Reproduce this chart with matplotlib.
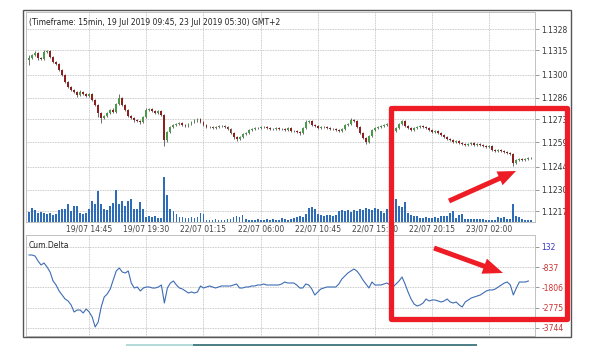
import matplotlib
matplotlib.use('Agg')
import matplotlib.pyplot as plt
from matplotlib.patches import Rectangle, FancyArrow
import numpy as np

# ---- data ----
title = '(Timeframe: 15min, 19 Jul 2019 09:45, 23 Jul 2019 05:30) GMT+2'

closes = [
    1.13103, 1.13121, 1.13134, 1.13103, 1.13097, 1.13140, 1.13146, 1.13109, 1.13079, 1.13067,
    1.13030, 1.13000, 1.12957, 1.12926, 1.12908, 1.12896, 1.12877, 1.12896, 1.12884, 1.12871,
    1.12884, 1.12847, 1.12816, 1.12768, 1.12737, 1.12749, 1.12768, 1.12786, 1.12774, 1.12823,
    1.12859, 1.12816, 1.12786, 1.12749, 1.12737, 1.12725, 1.12719, 1.12713, 1.12743, 1.12786,
    1.12792, 1.12780, 1.12768, 1.12780, 1.12755, 1.12603, 1.12652, 1.12682, 1.12694, 1.12701,
    1.12707, 1.12694, 1.12688, 1.12701, 1.12713, 1.12719, 1.12731, 1.12713, 1.12694, 1.12682,
    1.12682, 1.12676, 1.12682, 1.12688, 1.12688, 1.12682, 1.12670, 1.12646, 1.12621, 1.12609,
    1.12621, 1.12640, 1.12646, 1.12664, 1.12670, 1.12676, 1.12676, 1.12682, 1.12682, 1.12676,
    1.12670, 1.12670, 1.12676, 1.12670, 1.12670, 1.12664, 1.12676, 1.12658, 1.12658, 1.12652,
    1.12646, 1.12676, 1.12713, 1.12719, 1.12694, 1.12688, 1.12676, 1.12682, 1.12682, 1.12676,
    1.12670, 1.12670, 1.12664, 1.12658, 1.12670, 1.12694, 1.12701, 1.12725, 1.12719, 1.12682,
    1.12646, 1.12615, 1.12591, 1.12628, 1.12664, 1.12676, 1.12682, 1.12688, 1.12694, 1.12701,
    1.12713, 1.12658, 1.12676, 1.12701, 1.12719, 1.12688, 1.12676, 1.12664, 1.12676, 1.12682,
    1.12688, 1.12682, 1.12676, 1.12664, 1.12652, 1.12658, 1.12646, 1.12634, 1.12621, 1.12609,
    1.12603, 1.12591, 1.12597, 1.12585, 1.12579, 1.12573, 1.12579, 1.12585, 1.12573, 1.12579,
    1.12573, 1.12567, 1.12560, 1.12567, 1.12542, 1.12536, 1.12542, 1.12536, 1.12530, 1.12524,
    1.12518, 1.12463, 1.12481, 1.12487, 1.12481, 1.12487, 1.12493, 1.12493,
]
first_open = 1.13090

# wick extensions in pips
wick_up = [
    3, 1, 2, 1, 1, 2, 1, 1, 1, 1, 1, 1, 1, 1, 1, 1, 1, 2, 1, 1,
    1, 1, 1, 1, 1, 1, 1, 1, 2, 1, 4, 1, 1, 1, 1, 1, 1, 1, 1, 2,
    1, 1, 1, 1, 1, 1, 1, 1, 1, 1, 1, 1, 1, 1, 1, 2, 1, 1, 1, 1,
    1, 1, 1, 1, 1, 1, 1, 1, 1, 1, 1, 1, 1, 1, 1, 1, 1, 1, 1, 1,
    1, 1, 1, 1, 1, 1, 1, 1, 1, 1, 1, 1, 2, 1, 1, 1, 1, 1, 1, 1,
    1, 1, 1, 1, 1, 1, 1, 2, 1, 1, 1, 1, 1, 1, 1, 1, 1, 1, 1, 1,
    1, 2, 1, 1, 1, 1, 1, 1, 1, 1, 1, 1, 1, 1, 1, 1, 1, 1, 1, 1,
    1, 1, 1, 1, 1, 1, 1, 1, 1, 1, 1, 1, 1, 1, 1, 1, 1, 1, 1, 1,
    1, 1, 1, 1, 1, 1, 1, 1,
]
wick_dn = [
    5, 1, 1, 2, 1, 1, 1, 1, 1, 1, 1, 1, 1, 1, 1, 1, 2, 1, 1, 1,
    1, 1, 1, 4, 5, 1, 1, 1, 1, 1, 1, 1, 1, 1, 1, 2, 1, 2, 1, 1,
    1, 1, 1, 1, 1, 6, 2, 1, 1, 1, 1, 1, 1, 1, 1, 1, 1, 1, 1, 1,
    1, 1, 1, 1, 1, 1, 1, 1, 2, 2, 1, 1, 1, 1, 1, 1, 1, 1, 1, 1,
    1, 1, 1, 1, 1, 1, 1, 1, 1, 1, 2, 1, 1, 1, 1, 1, 1, 1, 1, 1,
    1, 1, 1, 1, 1, 1, 1, 1, 1, 1, 1, 1, 2, 1, 1, 1, 1, 1, 1, 1,
    1, 1, 1, 1, 1, 1, 1, 1, 1, 1, 1, 1, 1, 1, 1, 1, 1, 1, 1, 1,
    1, 1, 1, 1, 1, 1, 1, 1, 1, 1, 1, 1, 1, 1, 1, 1, 1, 1, 1, 1,
    1, 3, 1, 1, 1, 1, 1, 1,
]

volumes = [
    10, 14, 12, 9, 10, 9, 8, 9, 7, 8,
    12, 13, 13, 18, 11, 16, 16, 9, 8, 9,
    13, 21, 18, 31, 18, 13, 12, 16, 19, 32,
    18, 21, 16, 21, 23, 13, 13, 20, 13, 5,
    6, 5, 6, 4, 4, 45, 27, 13, 11, 8,
    5, 5, 4, 4, 5, 4, 5, 9, 8, 2,
    2, 2, 3, 2, 2, 2, 3, 3, 5, 6,
    5, 7, 3, 2, 2, 2, 3, 2, 2, 3,
    2, 3, 2, 2, 4, 3, 2, 3, 4, 5,
    6, 5, 8, 14, 15, 13, 8, 7, 6, 7,
    7, 6, 7, 11, 12, 11, 12, 10, 12, 11,
    13, 12, 14, 13, 12, 14, 13, 11, 9, 13,
    12, 14, 23, 16, 15, 20, 9, 7, 6, 6,
    4, 4, 5, 4, 4, 5, 4, 6, 6, 6,
    9, 11, 4, 7, 8, 3, 3, 3, 3, 3,
    3, 3, 2, 2, 2, 2, 5, 4, 5, 3,
    3, 18, 6, 5, 3, 2, 2, 2,
]

cum_delta = [
    -251, -251, -299, -538, -729, -634, -825, -1064, -1495, -1686,
    -1973, -2165, -2356, -2452, -2643, -2978, -2883, -2883, -3026, -2835,
    -2978, -3218, -3696, -3457, -2739, -2261, -2117, -1878, -1447, -1016,
    -873, -1064, -1112, -1016, -1591, -1830, -1782, -1973, -1830, -1782,
    -1782, -1830, -1830, -1782, -1686, -2548, -1830, -1591, -1495, -1686,
    -1830, -1878, -1973, -2069, -2021, -2069, -2021, -1734, -1830, -1782,
    -1734, -1782, -1830, -1782, -1734, -1734, -1734, -1734, -1686, -1638,
    -1830, -1830, -1782, -1782, -1734, -1734, -1686, -1686, -1638, -1686,
    -1686, -1686, -1686, -1686, -1638, -1543, -1591, -1591, -1591, -1686,
    -1830, -1830, -1638, -1686, -1878, -2165, -2021, -1878, -1830, -1782,
    -1782, -1782, -1782, -1638, -1399, -1256, -1112, -1016, -921, -1016,
    -1208, -1447, -1638, -1830, -1543, -1686, -1686, -1686, -1638, -1591,
    -1686, -1782, -1638, -1495, -1304, -1638, -2021, -2356, -2595, -2691,
    -2643, -2548, -2356, -2452, -2404, -2404, -2452, -2500, -2452, -2356,
    -2500, -2548, -2500, -2643, -2739, -2500, -2404, -2308, -2261, -2213,
    -2165, -2069, -1973, -1926, -1926, -1878, -1782, -1686, -1591, -1543,
    -1686, -2165, -1830, -1543, -1543, -1543, -1495,
]

x_tick_pos = [20, 39, 58, 77, 96, 115, 134, 153]
x_tick_labels = ['19/07 14:45', '19/07 19:30', '22/07 01:15', '22/07 06:00',
                 '22/07 10:45', '22/07 15:30', '22/07 20:15', '23/07 02:00']
price_ticks = [1.1217, 1.1230, 1.1244, 1.1259, 1.1273, 1.1286, 1.1300, 1.1315, 1.1328]
delta_ticks = [132, -837, -1806, -2775, -3744]

# ---- derived ----
n = len(closes)
x = np.arange(n)
c = np.array(closes)
o = np.concatenate([[first_open], c[:-1]])
hi = np.maximum(o, c) + np.array(wick_up) * 0.0001 * 0.6
lo = np.minimum(o, c) - np.array(wick_dn) * 0.0001 * 0.6
up = c >= o

GREEN = '#4a9a4a'
RED = '#8e1f1f'
GRID = '#b8b8b8'

W, H = 592, 363
fig = plt.figure(figsize=(W / 100, H / 100), dpi=100)

def px_axes(x0, y0, x1, y1):
    return fig.add_axes([x0 / W, 1 - y1 / H, (x1 - x0) / W, (y1 - y0) / H])

ax = px_axes(26, 12, 535, 222)
axd = px_axes(26, 235, 535, 336)

# volume sits in the bottom of the price panel
axv = ax.twinx()

for a in (ax, axd):
    a.set_xlim(-1.0, 168.2)
    a.set_xticks(x_tick_pos)
    a.grid(True, color=GRID, linestyle=(0, (1, 1)), linewidth=0.6)
    a.set_axisbelow(True)
    for s in a.spines.values():
        s.set_color(GRID)
        s.set_linestyle((0, (1, 1)))
        s.set_linewidth(0.6)
    a.yaxis.tick_right()
    a.yaxis.set_label_position('right')
    a.tick_params(axis='y', length=3, width=0.6, color='#888888', pad=1.5, labelsize=5.5)
    a.tick_params(axis='x', length=0, pad=2, labelsize=5.5, labelcolor='#444444')

# price panel
ax.set_ylim(1.12103, 1.13384)
ax.set_yticks(price_ticks)
ax.set_yticklabels([f'{p:.4f}' for p in price_ticks], color='#333333')
ax.set_xticklabels(x_tick_labels)

ax.vlines(x, lo, hi, color='#555555', linewidth=0.6, zorder=2)
body_h = np.maximum(np.abs(c - o), 0.000025)
ax.bar(x, body_h, bottom=np.minimum(o, c), width=0.62,
       color=np.where(up, GREEN, RED), edgecolor='none', zorder=3)

ax.text(0.006, 0.952, title, transform=ax.transAxes, fontsize=5.5,
        color='#222222', va='center', ha='left')

axv.set_ylim(0, 210)
axv.bar(x, volumes, width=0.6, color='#2e6cb8', zorder=3)
axv.set_yticks([])
for s in axv.spines.values():
    s.set_visible(False)
axv.set_xlim(-1.0, 168.2)

# cumulative delta panel
axd.set_ylim(-4127, 706)
axd.set_yticks(delta_ticks)
axd.set_yticklabels([str(v) for v in delta_ticks])
for lab, v in zip(axd.get_yticklabels(), delta_ticks):
    lab.set_color('#3535c8' if v > 0 else '#cc3030')
axd.set_xticklabels([])
axd.plot(x[:len(cum_delta)], cum_delta, color='#3d6cb5', linewidth=0.8)
axd.text(0.006, 0.90, 'Cum.Delta', transform=axd.transAxes, fontsize=5.5,
         color='#222222', va='center', ha='left')

# overlay: frame, highlight box and arrows (pixel space)
ov = fig.add_axes([0, 0, 1, 1])
ov.set_xlim(0, W)
ov.set_ylim(H, 0)
ov.axis('off')
ov.add_patch(Rectangle((23, 10), 548, 327, fill=False, edgecolor='#555555', linewidth=1.0))
ov.plot([126, 193], [345, 345], color='#a6d4d2', linewidth=1.2, solid_capstyle='butt')
ov.plot([193, 477], [345, 345], color='#2c6870', linewidth=1.2, solid_capstyle='butt')

RED_MARK = '#ee1c24'
ov.add_patch(Rectangle((391, 107.5), 176, 211.5, fill=False, edgecolor=RED_MARK,
                       linewidth=3.8, joinstyle='round'))
ov.add_patch(FancyArrow(449, 201, 67, -30, width=5, head_width=15, head_length=18,
                        length_includes_head=True, color=RED_MARK, linewidth=0))
ov.add_patch(FancyArrow(434, 248, 69, 25, width=5, head_width=16, head_length=20,
                        length_includes_head=True, color=RED_MARK, linewidth=0))

fig.savefig('out.png', dpi=100)
